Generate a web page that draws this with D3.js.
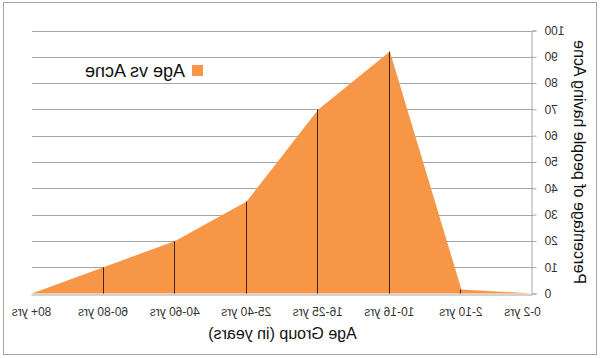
<!DOCTYPE html>
<html>
<head>
<meta charset="utf-8">
<script src="https://cdn.jsdelivr.net/npm/d3@7"></script>
<style>
  body { margin: 0; background: #fff; }
  svg { display: block; font-family: "Liberation Sans", Arial, sans-serif; }
</style>
</head>
<body>
<div id="chart"></div>
<script>
const ageGroups = ["0-2 yrs", "2-10 yrs", "10-16 yrs", "16-25 yrs", "25-40 yrs", "40-60 yrs", "60-80 yrs", "80+ yrs"]
const acnePercent = [0, 1.5, 92, 70, 35, 20, 10, 0]
const yTicks = [0, 10, 20, 30, 40, 50, 60, 70, 80, 90, 100]
const seriesName = "Age vs Acne"

const width = 600
const height = 358
const margin = { top: 30.5, right: 32, bottom: 64.5, left: 67 }

const data = ageGroups.map((g, i) => ({ group: g, value: acnePercent[i] }))

const svg = d3.select("#chart")
  .append("svg")
  .attr("width", width)
  .attr("height", height)

// the reference picture is a horizontal mirror image of the chart
const g = svg.append("g")
  .attr("transform", `translate(${width},0) scale(-1,1)`)

g.append("rect")
  .attr("x", 3.5)
  .attr("y", 2.5)
  .attr("width", width - 7)
  .attr("height", height - 6)
  .attr("fill", "#fff")
  .attr("stroke", "#a6a6a6")

const x = d3.scalePoint()
  .domain(ageGroups)
  .range([margin.left, width - margin.right])

const y = d3.scaleLinear()
  .domain([0, 100])
  .range([height - margin.bottom, margin.top])

// Gridlines
g.append("g")
  .selectAll("line")
  .data(yTicks.slice(1))
  .join("line")
  .attr("x1", margin.left)
  .attr("x2", width - margin.right)
  .attr("y1", d => Math.round(y(d)) + 0.5)
  .attr("y2", d => Math.round(y(d)) + 0.5)
  .attr("stroke", "#a6a6a6")

// Area
const area = d3.area()
  .x(d => x(d.group))
  .y0(y(0))
  .y1(d => y(d.value))

g.append("path")
  .datum(data)
  .attr("fill", "#f79646")
  .attr("d", area)

// Drop lines
g.append("g")
  .selectAll("line")
  .data(data.filter(d => d.value > 0))
  .join("line")
  .attr("x1", d => Math.round(x(d.group)) + 0.5)
  .attr("x2", d => Math.round(x(d.group)) + 0.5)
  .attr("y1", d => y(d.value))
  .attr("y2", y(0))
  .attr("stroke", "#3d2616")
  .attr("stroke-width", 1)

// Axes
const yAxis = g.append("g")
  .attr("transform", `translate(${margin.left + 0.5},0)`)
  .call(d3.axisLeft(y).tickValues(yTicks).tickSize(4).tickPadding(8))
yAxis.select(".domain").attr("stroke", "#a6a6a6")
yAxis.selectAll(".tick line").attr("stroke", "#a6a6a6")
yAxis.selectAll(".tick text")
  .attr("fill", "#333")
  .style("font-size", "12px")
  .style("font-family", "'Liberation Sans', Arial, sans-serif")

const xAxis = g.append("g")
  .attr("transform", `translate(0,${Math.round(y(0)) + 0.5})`)
  .call(d3.axisBottom(x).tickSize(0).tickPadding(13))
xAxis.select(".domain").attr("stroke", "#a6a6a6")
xAxis.selectAll(".tick text")
  .attr("fill", "#333")
  .style("font-size", "12px")
  .style("font-family", "'Liberation Sans', Arial, sans-serif")
  .attr("dx", (d, i) => i === 0 ? 10 : 0)

// Axis titles
g.append("text")
  .attr("x", (margin.left + width - margin.right) / 2)
  .attr("y", 339)
  .attr("text-anchor", "middle")
  .attr("font-size", 16)
  .attr("fill", "#111")
  .text("Age Group (in years)")

g.append("text")
  .attr("transform", `translate(26,${(y(0) + y(100)) / 2}) rotate(-90)`)
  .attr("text-anchor", "middle")
  .attr("font-size", 16)
  .attr("fill", "#111")
  .text("Percentage of people having Acne")

// Legend
const legend = g.append("g")
  .attr("transform", "translate(397,65)")
legend.append("rect")
  .attr("width", 11)
  .attr("height", 11)
  .attr("fill", "#f79646")
legend.append("text")
  .attr("x", 18)
  .attr("y", 12)
  .attr("font-size", 18)
  .attr("fill", "#111")
  .text(seriesName)
</script>
</body>
</html>
